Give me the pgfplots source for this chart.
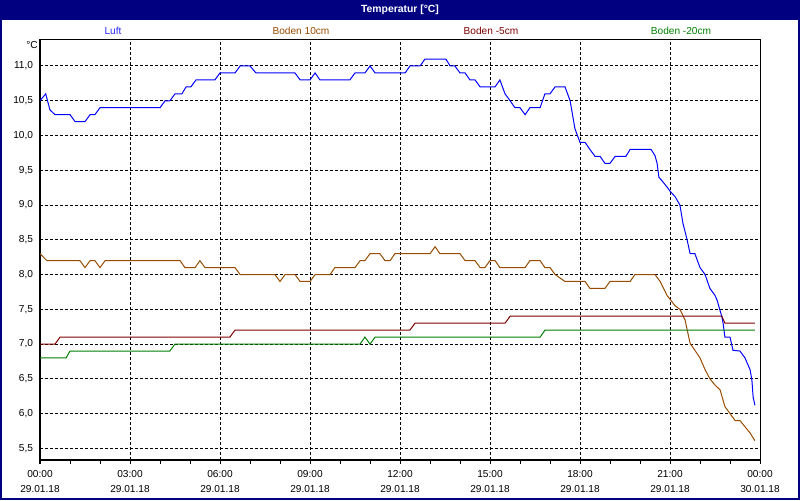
\documentclass[border=0pt]{standalone}
\usepackage{fontspec}
\setmainfont{Liberation Sans}
\usepackage{pgfplots}
\pgfplotsset{compat=1.18}
\definecolor{navyb}{RGB}{0,0,128}
\definecolor{brn}{RGB}{153,76,0}
\definecolor{dred}{RGB}{128,0,0}
\definecolor{grn}{RGB}{0,128,0}
\definecolor{lblue}{RGB}{40,40,255}
\newcommand{\sm}{\fontsize{7.6}{11}\selectfont}
\begin{document}
\begin{tikzpicture}[x=0.75pt,y=0.75pt]
\useasboundingbox (0,0) rectangle (800,500);
\fill[white] (0,0) rectangle (800,500);
\fill[navyb] (0,480) rectangle (800,500);
\draw[navyb, line width=1.5pt] (1,1) rectangle (799,499);
\node[white, font=\bfseries\fontsize{7.8}{9}\selectfont] at (400,490) {Temperatur [°C]};
\node[lblue, font=\sm] at (113,469) {Luft};
\node[brn, font=\sm] at (301,469) {Boden 10cm};
\node[dred, font=\sm] at (491,469) {Boden -5cm};
\node[grn, font=\sm] at (681,469) {Boden -20cm};
\node[black, font=\sm, anchor=east, inner sep=0pt] at (38,455) {°C};
\begin{axis}[
  at={(30pt,30pt)}, anchor=south west,
  scale only axis, width=540pt, height=315pt,
  xmin=0, xmax=24, ymin=5.332, ymax=11.374,
  axis line style={black, line width=0.75pt},
  xtick={0,3,...,24},
  minor xtick={1,2,4,5,7,8,10,11,13,14,16,17,19,20,22,23},
  xticklabels={00:00\\29.01.18, 03:00\\29.01.18, 06:00\\29.01.18, 09:00\\29.01.18, 12:00\\29.01.18, 15:00\\29.01.18, 18:00\\29.01.18, 21:00\\29.01.18, 00:00\\30.01.18},
  xticklabel style={align=center, font=\sm, inner sep=1pt, yshift=-3.8pt},
  tick align=outside, xtick pos=bottom, ytick pos=left,
  major tick length=3pt, minor tick length=3pt,
  every tick/.style={black, line width=0.75pt},
  ytick={5.5,6,...,11},
  y tick style={draw=none},
  yticklabel style={font=\sm, inner sep=1pt, xshift=-1pt},
  /pgf/number format/assume math mode=true,
  /pgf/number format/.cd, use comma, fixed, fixed zerofill, precision=1, /pgfplots/.cd,
  grid=major,
  major grid style={black, dash pattern=on 2.25pt off 1.5pt, line width=0.75pt},
  every axis plot/.append style={line width=0.75pt, mark=none},
]
\addplot[blue] coordinates {
(0,10.5) (0.19,10.6) (0.33,10.37) (0.5,10.3) (1.0,10.3) (1.17,10.2) (1.5,10.2) (1.67,10.3) (1.83,10.3) (2.0,10.4)
(4.0,10.4) (4.17,10.5) (4.33,10.5) (4.5,10.6) (4.73,10.6) (4.87,10.7) (5.03,10.7) (5.2,10.8) (5.83,10.8) (6.0,10.9)
(6.5,10.9) (6.67,11.0) (7.0,11.0) (7.2,10.9) (8.5,10.9) (8.67,10.8) (9.0,10.8) (9.17,10.9) (9.33,10.8) (10.33,10.8)
(10.5,10.9) (10.83,10.9) (11.0,11.0) (11.17,10.9) (12.17,10.9) (12.33,11.0) (12.67,11.0) (12.83,11.1) (13.53,11.1)
(13.67,11.0) (13.83,11.0) (14.0,10.9) (14.17,10.9) (14.33,10.8) (14.5,10.8) (14.67,10.7) (15.17,10.7) (15.33,10.8)
(15.5,10.6) (15.67,10.5) (15.83,10.4) (16.0,10.4) (16.17,10.3) (16.33,10.4) (16.67,10.4) (16.83,10.6) (17.0,10.6)
(17.17,10.7) (17.5,10.7) (17.67,10.5) (17.83,10.1) (18.0,9.9) (18.17,9.9) (18.33,9.8) (18.5,9.7) (18.67,9.7)
(18.83,9.6) (19.0,9.6) (19.17,9.7) (19.53,9.7) (19.67,9.8) (20.37,9.8) (20.5,9.71) (20.57,9.6) (20.63,9.4)
(20.73,9.35) (20.9,9.26) (21.0,9.2) (21.17,9.12) (21.33,9.0) (21.43,8.74) (21.57,8.5) (21.67,8.3) (21.83,8.3)
(22.0,8.1) (22.17,8.0) (22.33,7.8) (22.5,7.7) (22.57,7.63) (22.73,7.39) (22.77,7.3) (22.83,7.1) (23.0,7.1)
(23.1,6.91) (23.33,6.9) (23.5,6.8) (23.67,6.63) (23.73,6.48) (23.77,6.24) (23.83,6.12)
};
\addplot[brn] coordinates {
(0,8.3) (0.23,8.2) (1.33,8.2) (1.5,8.1) (1.67,8.2) (1.83,8.2) (2.0,8.1) (2.17,8.2) (4.67,8.2) (4.83,8.1)
(5.17,8.1) (5.33,8.2) (5.5,8.1) (6.5,8.1) (6.67,8.0) (7.83,8.0) (8.0,7.9) (8.17,8.0) (8.5,8.0) (8.67,7.9)
(9.0,7.9) (9.17,8.0) (9.67,8.0) (9.83,8.1) (10.5,8.1) (10.67,8.2) (10.83,8.2) (11.0,8.3) (11.33,8.3) (11.5,8.2)
(11.67,8.2) (11.83,8.3) (13.0,8.3) (13.17,8.4) (13.33,8.3) (14.0,8.3) (14.17,8.2) (14.5,8.2) (14.67,8.1)
(14.83,8.1) (15.0,8.2) (15.17,8.2) (15.33,8.1) (16.17,8.1) (16.33,8.2) (16.67,8.2) (16.83,8.1) (17.0,8.1)
(17.17,8.0) (17.5,7.9) (18.17,7.9) (18.33,7.8) (18.83,7.8) (19.0,7.9) (19.67,7.9) (19.83,8.0) (20.5,8.0)
(20.67,7.9) (20.9,7.7) (21.17,7.55) (21.33,7.5) (21.5,7.35) (21.67,7.01) (21.83,6.91) (22.0,6.8) (22.17,6.63)
(22.33,6.5) (22.5,6.41) (22.67,6.34) (22.83,6.1) (23.0,6.0) (23.17,5.9) (23.33,5.9) (23.5,5.81) (23.67,5.72) (23.83,5.61)
};
\addplot[dred] coordinates {
(0,7.0) (0.5,7.0) (0.67,7.1) (6.33,7.1) (6.5,7.2) (12.33,7.2) (12.5,7.3) (15.5,7.3) (15.67,7.4) (22.73,7.4) (22.83,7.3) (23.83,7.3)
};
\addplot[grn] coordinates {
(0,6.8) (0.87,6.8) (1.0,6.9) (4.33,6.9) (4.5,7.0) (10.67,7.0) (10.83,7.1) (11.0,7.0) (11.17,7.1) (16.67,7.1) (16.83,7.2) (23.83,7.2)
};
\end{axis}
\end{tikzpicture}
\end{document}
